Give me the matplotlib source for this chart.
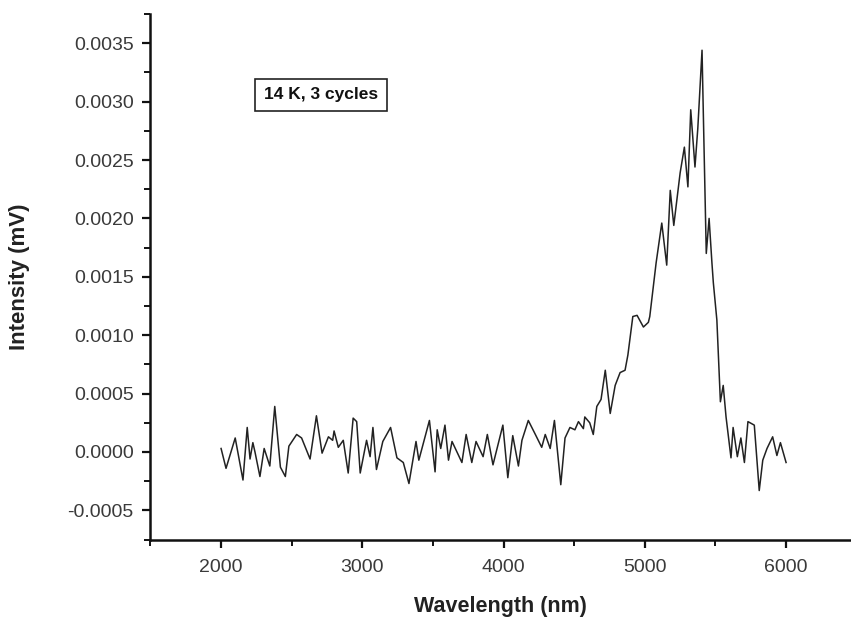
import numpy as np
import matplotlib
matplotlib.use('Agg')
import matplotlib.pyplot as plt
from matplotlib.ticker import MultipleLocator, FormatStrFormatter

plt.rcParams['font.family'] = ['Liberation Sans', 'DejaVu Sans']

# spectrum: wavelength (nm) and intensity (units of 1e-4 mV)
wavelength = [2000, 2035, 2100, 2155, 2185, 2205, 2225, 2240, 2275, 2305,
              2345, 2380, 2420, 2455, 2480, 2535, 2570, 2630, 2675, 2715,
              2760, 2790, 2800, 2830, 2865, 2900, 2935, 2960, 2985, 3030,
              3055, 3075, 3100, 3145, 3200, 3245, 3290, 3330, 3380, 3400,
              3475, 3515, 3530, 3555, 3585, 3610, 3635, 3670, 3705, 3735,
              3775, 3805, 3855, 3885, 3925, 3995, 4030, 4065, 4105, 4130,
              4175, 4225, 4270, 4295, 4330, 4360, 4405, 4435, 4470, 4505,
              4530, 4565, 4575, 4610, 4635, 4660, 4690, 4720, 4755, 4790,
              4825, 4860, 4880, 4915, 4945, 4990, 5025, 5035, 5080, 5120,
              5155, 5180, 5205, 5250, 5280, 5305, 5325, 5355, 5375, 5405,
              5410, 5420, 5435, 5455, 5475, 5485, 5510, 5520, 5535, 5555,
              5575, 5610, 5625, 5655, 5680, 5705, 5730, 5775, 5810, 5835,
              5865, 5905, 5935, 5960, 6000]
intensity = [0.3, -1.4, 1.2, -2.4, 2.1, -0.6, 0.8, 0.0, -2.1, 0.3,
             -1.2, 3.9, -1.3, -2.1, 0.5, 1.5, 1.2, -0.6, 3.1, -0.1,
             1.3, 1.0, 1.8, 0.4, 1.0, -1.8, 2.9, 2.6, -1.8, 1.0,
             -0.4, 2.1, -1.5, 0.9, 2.1, -0.5, -0.9, -2.7, 0.9, -0.7,
             2.7, -1.7, 1.9, 0.3, 2.3, -0.7, 0.9, 0.0, -0.9, 1.5,
             -0.9, 0.9, -0.4, 1.5, -1.1, 2.3, -2.2, 1.4, -1.2, 1.0,
             2.7, 1.5, 0.4, 1.5, 0.3, 2.7, -2.8, 1.2, 2.1, 1.9,
             2.6, 2.0, 3.0, 2.5, 1.5, 3.9, 4.5, 7.0, 3.3, 5.7,
             6.8, 7.0, 8.3, 11.6, 11.7, 10.7, 11.1, 11.6, 16.2, 19.6,
             16.0, 22.4, 19.4, 23.9, 26.1, 22.7, 29.3, 24.4, 27.7, 34.4,
             31.4, 25.6, 17.0, 20.0, 16.2, 14.5, 11.3, 8.5, 4.3, 5.7,
             3.0, -0.5, 2.1, -0.4, 1.2, -0.9, 2.6, 2.3, -3.3, -0.7,
             0.3, 1.3, -0.3, 0.8, -0.9]

wl = np.array(wavelength)
I = np.array(intensity) * 1e-4

fig = plt.figure(figsize=(8.51, 6.2), dpi=100)
ax = fig.add_axes([0.1768, 0.1297, 0.8216, 0.8477])

ax.plot(wl, I, color='#222222', lw=1.1)

ax.set_xlim(1500, 6450)
ax.set_ylim(-0.00075, 0.00375)
ax.xaxis.set_major_locator(MultipleLocator(1000))
ax.xaxis.set_minor_locator(MultipleLocator(500))
ax.yaxis.set_major_locator(MultipleLocator(0.0005))
ax.yaxis.set_minor_locator(MultipleLocator(0.00025))
ax.yaxis.set_major_formatter(FormatStrFormatter('%.4f'))

for s in ['top', 'right']:
    ax.spines[s].set_visible(False)
for s in ['left', 'bottom']:
    ax.spines[s].set_linewidth(1.8)
    ax.spines[s].set_color('#111111')

ax.tick_params(which='major', direction='out', length=6, width=1.6,
               labelsize=14, labelcolor='#3a3a3a', color='#111111')
ax.tick_params(which='minor', direction='out', length=4, width=1.4, color='#111111')
ax.tick_params(axis='x', pad=8)
ax.tick_params(axis='y', pad=6)

ax.set_xlabel('Wavelength (nm)', fontsize=15.5, fontweight='bold', color='#222222')
ax.set_ylabel('Intensity (mV)', fontsize=16, fontweight='bold', color='#222222')
ax.xaxis.set_label_coords(0.5, -0.107)
ax.yaxis.set_label_coords(-0.172, 0.5)

ax.text(0.244, 0.846, '14 K, 3 cycles', transform=ax.transAxes, ha='center', va='center',
        fontsize=12.5, fontweight='bold', color='#111111',
        bbox=dict(boxstyle='square,pad=0.5', fc='white', ec='#222222', lw=1.2))

plt.savefig('out.png', dpi=100)
